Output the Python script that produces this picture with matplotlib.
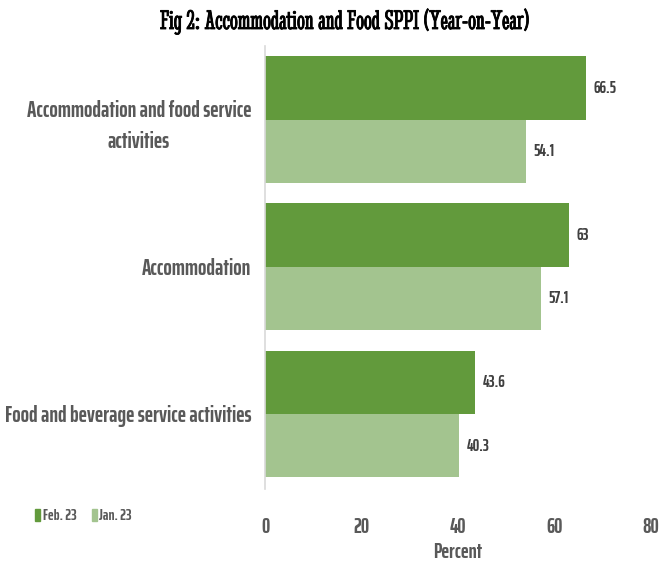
import matplotlib.pyplot as plt
import matplotlib.patheffects as pe
import numpy as np
from matplotlib.patches import Patch

categories = ['Accommodation and food service\nactivities', 'Accommodation',
              'Food and beverage service activities']
feb_23 = [66.5, 63.0, 43.6]
jan_23 = [54.1, 57.1, 40.3]
feb_labels = ['66.5', '63', '43.6']
jan_labels = ['54.1', '57.1', '40.3']
x_ticks = [0, 20, 40, 60, 80]

DARK = '#629a3c'
LIGHT = '#a3c48f'
TEXT = '#595959'
SANS = ['Saira ExtraCondensed', 'DejaVu Sans']
SERIF = ['Stint Ultra Condensed', 'Liberation Serif']

fig = plt.figure(figsize=(6.61, 5.67), dpi=100)
ax = fig.add_axes([265 / 661, 1 - 489 / 567, 386 / 661, 443 / 567])

y = np.arange(len(categories))
h = 0.43
ax.barh(y - h / 2, feb_23, height=h, color=DARK, label='Feb. 23')
ax.barh(y + h / 2, jan_23, height=h, color=LIGHT, label='Jan. 23')

# value labels at the bar ends
for yi, v, s in zip(y - h / 2, feb_23, feb_labels):
    ax.text(v + 1.6, yi, s, va='center', ha='left', fontsize=12,
            family=SANS, fontweight='bold', color='#404040')
for yi, v, s in zip(y + h / 2, jan_23, jan_labels):
    ax.text(v + 1.6, yi, s, va='center', ha='left', fontsize=12,
            family=SANS, fontweight='bold', color='#404040')

ax.set_xlim(0, 80)
ax.set_ylim(2.51, -0.50)
ax.set_xticks(x_ticks)
ax.set_xticklabels([str(t) for t in x_ticks], family=SANS, fontsize=15,
                   fontweight='bold', color=TEXT)
ax.tick_params(axis='x', length=0, pad=20)
ax.set_yticks(y)
ax.set_yticklabels(categories, family=SANS, fontsize=16, fontweight='bold',
                   color=TEXT, multialignment='center', linespacing=1.55)
ax.tick_params(axis='y', length=0, pad=10)
for side in ['top', 'right', 'bottom']:
    ax.spines[side].set_visible(False)
ax.spines['left'].set_color('#d9d9d9')
ax.spines['left'].set_linewidth(1.2)

ax.set_xlabel('Percent', family=SANS, fontsize=15, fontweight='bold',
              color=TEXT, labelpad=4)

handles = [Patch(color=DARK, label='Feb. 23'), Patch(color=LIGHT, label='Jan. 23')]
fig.legend(handles=handles, loc='center left', bbox_to_anchor=(35 / 661, 1 - 516 / 567),
           ncol=2, frameon=False, handlelength=0.35, handleheight=0.8,
           handletextpad=0.15, columnspacing=1.0, borderpad=0, borderaxespad=0,
           prop={'family': SANS, 'size': 11, 'weight': 'bold'}, labelcolor=TEXT)

title = fig.text(345 / 661, 1 - 29 / 567, 'Fig 2: Accommodation and Food SPPI (Year-on-Year)',
                 ha='center', va='baseline', family=SERIF, fontweight='bold', fontsize=20,
                 color='black')
title.set_path_effects([pe.withStroke(linewidth=0.6, foreground='black')])

fig.savefig('out.png', dpi=100)
